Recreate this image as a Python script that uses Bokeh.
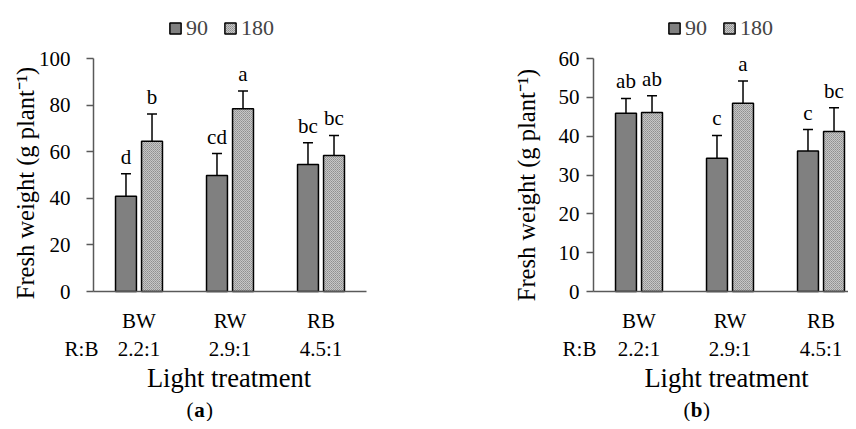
from bokeh.plotting import figure
from bokeh.models import (Range1d, FixedTicker, LinearAxis, ColumnDataSource, Whisker,
                          TeeHead, Legend, LegendItem, Label)
from bokeh.layouts import row
from bokeh.embed import file_html
from bokeh.resources import INLINE
from bokeh.core.properties import value

# ---------------- data ----------------
treatments = ["BW", "RW", "RB"]
ratios = ["2.2:1", "2.9:1", "4.5:1"]
ratio_label = "R:B"
series = ["90", "180"]

a_90 = [40.9, 49.8, 54.5]
a_90_err = [9.6, 9.4, 9.3]
a_180 = [64.5, 78.4, 58.4]
a_180_err = [11.7, 7.6, 8.6]
a_90_letters = ["d", "cd", "bc"]
a_180_letters = ["b", "a", "bc"]

b_90 = [45.9, 34.3, 36.2]
b_90_err = [3.8, 5.9, 5.5]
b_180 = [46.1, 48.5, 41.2]
b_180_err = [4.3, 5.7, 6.1]
b_90_letters = ["ab", "c", "c"]
b_180_letters = ["ab", "a", "bc"]

a_ticks = [0, 20, 40, 60, 80, 100]
b_ticks = [0, 10, 20, 30, 40, 50, 60]

FONT = "Liberation Serif"
AXC = "#595959"
DARK = "#808080"
W, H = 424, 421          # each panel's canvas
PX_PER_CAT = 91          # pixels per category
ORIGIN_Y = 291           # canvas y (from top) of value 0
PLOT_H = 233             # pixels from value 0 to the top tick


def lab(text, x, y, align="center", style="normal", size="21px"):
    return Label(x=x, y=y, x_units="screen", y_units="screen", text=text,
                 text_align=align, text_baseline="alphabetic", text_font=FONT,
                 text_font_size=size, text_font_style=style, text_color="black")


def style_axis(ax):
    ax.major_label_text_font = FONT
    ax.major_label_text_font_size = "21px"
    ax.major_label_text_color = "black"
    ax.axis_label_text_font = FONT
    ax.axis_label_text_font_style = "normal"
    ax.axis_label_text_color = "black"
    ax.major_tick_in = 0
    ax.minor_tick_out = 0
    ax.minor_tick_in = 0
    ax.axis_line_color = AXC
    ax.axis_line_width = 1.5
    ax.major_tick_line_color = AXC
    ax.major_tick_line_width = 1.5


def panel(origin_x, y_top, yticks, v90, e90, l90, v180, e180, l180,
          tick_standoff, ylabel_standoff, ylabel_shift, cap, cap_x, rb_pos,
          title_bounds, leg_x):
    ppu = PLOT_H / y_top
    x_range = Range1d(-origin_x / PX_PER_CAT, (W - origin_x) / PX_PER_CAT)
    y_range = Range1d(-(H - ORIGIN_Y) / ppu, ORIGIN_Y / ppu)
    p = figure(width=W, height=H, output_backend="svg", toolbar_location=None,
               x_range=x_range, y_range=y_range,
               min_border_left=0, min_border_right=0,
               min_border_top=0, min_border_bottom=0)
    p.outline_line_color = None
    p.grid.visible = False
    p.background_fill_color = "white"
    p.border_fill_color = "white"

    centers = [i + 0.5 for i in range(len(treatments))]
    off = 0.143
    bw = 0.23
    s90 = ColumnDataSource(dict(x=[c - off for c in centers], top=v90,
                                upper=[v + e for v, e in zip(v90, e90)], letter=l90))
    s180 = ColumnDataSource(dict(x=[c + off for c in centers], top=v180,
                                 upper=[v + e for v, e in zip(v180, e180)], letter=l180))

    r90 = p.vbar(x="x", top="top", bottom=0, width=bw, source=s90,
                 fill_color=DARK, line_color="black", line_width=1.5)
    r180 = p.vbar(x="x", top="top", bottom=0, width=bw, source=s180,
                  fill_color="white", line_color="black", line_width=1.5,
                  hatch_pattern="criss_cross", hatch_scale=2, hatch_color="#8f8f8f",
                  hatch_weight=1)

    for s in (s90, s180):
        wk = Whisker(source=s, base="x", upper="upper", lower="top", dimension="height",
                     line_color="black", line_width=1.5, lower_head=None,
                     upper_head=TeeHead(size=10, line_color="black", line_width=1.5))
        p.add_layout(wk)
        p.text(x="x", y="upper", text="letter", source=s, text_align="center",
               text_baseline="alphabetic", y_offset=-17,
               text_font=value(FONT), text_font_size="21px", text_color="black")

    # y axis, fixed at x = 0
    ya = p.yaxis[0]
    style_axis(ya)
    ya.fixed_location = 0
    ya.bounds = (0, y_top)
    ya.ticker = FixedTicker(ticks=yticks)
    ya.major_label_standoff = tick_standoff
    ya.major_tick_out = 7

    # y axis title (own axis without ticks so that it can be placed freely)
    yt = LinearAxis(fixed_location=0, ticker=FixedTicker(ticks=[]))
    style_axis(yt)
    yt.bounds = (-ylabel_shift, y_top - ylabel_shift)
    yt.axis_line_color = None
    yt.major_tick_out = 0
    yt.axis_label = "Fresh weight (g plant\u207b\u00b9)"
    yt.axis_label_text_font_size = "24.5px"
    yt.axis_label_standoff = ylabel_standoff
    p.add_layout(yt, "left")

    # x axis: treatment names, fixed at y = 0
    xa = p.xaxis[0]
    style_axis(xa)
    xa.fixed_location = 0
    xa.bounds = (0, len(treatments))
    xa.ticker = FixedTicker(ticks=centers)
    xa.major_label_overrides = {c: t for c, t in zip(centers, treatments)}
    xa.major_label_standoff = 17
    xa.major_tick_out = 0

    # second row of x labels: R:B ratios
    xb = LinearAxis(fixed_location=0)
    style_axis(xb)
    xb.bounds = (rb_pos - 0.05, len(treatments))
    xb.ticker = FixedTicker(ticks=[rb_pos] + centers)
    xb.major_label_overrides = dict([(rb_pos, ratio_label)] +
                                    [(c, r) for c, r in zip(centers, ratios)])
    xb.major_label_standoff = 45
    xb.major_tick_out = 0
    xb.axis_line_color = None
    p.add_layout(xb, "below")

    # x axis title
    xt = LinearAxis(fixed_location=0, ticker=FixedTicker(ticks=[]))
    style_axis(xt)
    xt.bounds = title_bounds
    xt.axis_line_color = None
    xt.major_tick_out = 0
    xt.axis_label = "Light treatment"
    xt.axis_label_text_font_size = "26.5px"
    xt.axis_label_standoff = 71
    p.add_layout(xt, "below")

    # legend above the bars
    leg = Legend(items=[LegendItem(label=series[0], renderers=[r90]),
                        LegendItem(label=series[1], renderers=[r180])],
                 orientation="horizontal", location=(leg_x, 380),
                 glyph_width=14, glyph_height=14, label_standoff=4, spacing=15,
                 padding=0, margin=0, border_line_color=None,
                 background_fill_alpha=0, label_text_font=FONT,
                 label_text_font_size="22px", label_height=22)
    p.add_layout(leg)

    # caption: (a) / (b) with a bold letter
    p.add_layout(lab("(", cap_x - 6, 12, align="right"))
    p.add_layout(lab(cap, cap_x, 12, style="bold"))
    p.add_layout(lab(")", cap_x + 6.5, 12, align="left"))
    return p


pa = panel(93, 100, a_ticks, a_90, a_90_err, a_90_letters,
           a_180, a_180_err, a_180_letters,
           tick_standoff=16, ylabel_standoff=55, ylabel_shift=3.6, cap="a", cap_x=199,
           rb_pos=-0.132, title_bounds=(0.03, 2.95), leg_x=168)
pb = panel(169, 60, b_ticks, b_90, b_90_err, b_90_letters,
           b_180, b_180_err, b_180_letters,
           tick_standoff=7, ylabel_standoff=54, ylabel_shift=2.6, cap="b", cap_x=272,
           rb_pos=-0.154, title_bounds=(0.13, 2.79), leg_x=243)

layout = row(pa, pb, spacing=0)
open("out.html", "w").write(file_html(layout, INLINE))
